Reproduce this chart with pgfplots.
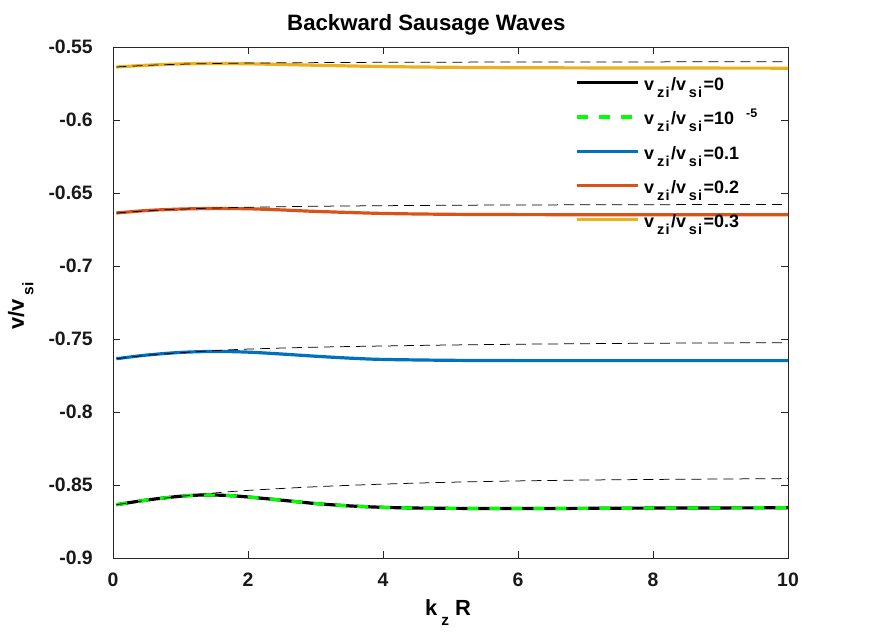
\documentclass[border=0pt]{standalone}
\usepackage{fontspec}
\setmainfont{Liberation Sans}
\usepackage{pgfplots}
\pgfplotsset{compat=1.18}
\definecolor{mblue}{rgb}{0,0.447,0.741}
\definecolor{mred}{rgb}{0.85,0.325,0.098}
\definecolor{myellow}{rgb}{0.929,0.694,0.125}
\definecolor{axgray}{rgb}{0.15,0.15,0.15}
\newcommand{\sub}[1]{\hspace{3bp}\raisebox{-7bp}{\fontsize{14.5}{14.5}\selectfont\addfontfeatures{LetterSpace=8}#1}\hspace{1.5bp}}
\newcommand{\lsub}[1]{\hspace{4bp}\raisebox{-9.5bp}{\fontsize{15.5}{15.5}\selectfont #1}}

\begin{document}
\begin{tikzpicture}
\useasboundingbox (0,0) rectangle (872bp,632bp);
\begin{axis}[
 at={(113bp,74bp)}, anchor=south west,
 scale only axis, width=675bp, height=511bp,
 xmin=0, xmax=10, ymin=-0.9, ymax=-0.55,
 xtick={0,2,4,6,8,10}, xticklabels={0,2,4,6,8,10},
 ytick={-0.9,-0.85,-0.8,-0.75,-0.7,-0.65,-0.6,-0.55},
 yticklabels={-0.9,-0.85,-0.8,-0.75,-0.7,-0.65,-0.6,-0.55},
 tick align=inside, major tick length=7bp,
 axis line style={axgray, line width=0.6bp},
 every tick/.style={axgray, line width=0.6bp},
 ticklabel style={font=\fontsize{19.5}{20}\selectfont\bfseries, text=black!90},
 xticklabel style={anchor=north, inner sep=0pt, yshift=-15bp},
 yticklabel style={anchor=east, inner sep=0pt, xshift=-20bp},
 title={Backward Sausage Waves},
 title style={at={(rel axis cs:0.2578,1.0196)}, anchor=base west, inner sep=0pt, font=\fontsize{22.3}{23}\selectfont\bfseries},
 xlabel={k\lsub{z} R},
 xlabel style={at={(rel axis cs:0.4622,-0.1135)}, anchor=base west, inner sep=0pt, font=\fontsize{22}{22}\selectfont\bfseries},
 ylabel={v/v\lsub{si}},
 ylabel style={at={(rel axis cs:-0.1319,0.4462)}, anchor=base west, inner sep=0pt, font=\fontsize{22}{22}\selectfont\bfseries},
 legend style={at={(rel axis cs:0.6844,0.938)}, anchor=north west, draw=none, fill=none,
   inner sep=0pt, outer sep=0pt, column sep=5bp, row sep=16.3bp,
   font=\fontsize{18}{18}\selectfont\bfseries,
   nodes={inner sep=0pt, text height=12bp, text depth=6bp}},
 legend cell align=left,
 legend image code/.code={\draw[#1] (0bp,5bp) -- (61bp,5bp);},
]
% v_zi/v_si = 0
\addplot[black, line width=3.2bp, smooth] coordinates {
(0.05,-0.8635) (0.5,-0.8603) (1,-0.8577) (1.36,-0.8568) (1.7,-0.8572) (2,-0.8582)
(2.5,-0.8604) (3,-0.8627) (3.5,-0.8643) (4,-0.8653) (4.5,-0.8658) (5,-0.8660)
(6,-0.8661) (7,-0.8660) (8,-0.8658) (9,-0.8657) (10,-0.8656)};
\addlegendentry{v\sub{zi}/v\sub{si}=0}
% 1e-5
\addplot[green, line width=3.2bp, dash pattern=on 11bp off 11bp, smooth] coordinates {
(0.05,-0.8635) (0.5,-0.8603) (1,-0.8577) (1.36,-0.8568) (1.7,-0.8572) (2,-0.8582)
(2.5,-0.8604) (3,-0.8627) (3.5,-0.8643) (4,-0.8653) (4.5,-0.8658) (5,-0.8660)
(6,-0.8661) (7,-0.8660) (8,-0.8658) (9,-0.8657) (10,-0.8656)};
\addlegendentry{v\sub{zi}/v\sub{si}=10\hspace{12bp}\raisebox{7bp}{\fontsize{12.5}{12.5}\selectfont -5}}
% 0.1
\addplot[mblue, line width=3.2bp, smooth] coordinates {
(0.05,-0.7635) (0.5,-0.7610) (1,-0.7592) (1.5,-0.7585) (2,-0.7590) (2.5,-0.7603)
(3,-0.7618) (3.5,-0.7631) (4,-0.7640) (5,-0.7646) (6,-0.7648) (7,-0.7648)
(8,-0.7648) (9,-0.7648) (10,-0.7648)};
\addlegendentry{v\sub{zi}/v\sub{si}=0.1}
% 0.2
\addplot[mred, line width=3.2bp, smooth] coordinates {
(0.05,-0.6637) (0.5,-0.6620) (1,-0.6610) (1.5,-0.6606) (2,-0.6608) (2.5,-0.6616)
(3,-0.6626) (4,-0.6640) (5,-0.6646) (6,-0.6648) (8,-0.6649) (10,-0.6649)};
\addlegendentry{v\sub{zi}/v\sub{si}=0.2}
% 0.3
\addplot[myellow, line width=3.2bp, smooth] coordinates {
(0.05,-0.5637) (0.5,-0.5625) (1,-0.5616) (1.5,-0.5613) (2,-0.5615) (3,-0.5625)
(4,-0.5634) (5,-0.5639) (6,-0.5642) (8,-0.5644) (10,-0.5645)};
\addlegendentry{v\sub{zi}/v\sub{si}=0.3}
% thin dashed reference curves
\addplot[forget plot, black, line width=0.75bp, dash pattern=on 10bp off 6bp, smooth] coordinates {
(0.05,-0.8635) (0.5,-0.8605) (1,-0.8578) (1.5,-0.8555) (2,-0.8537) (3,-0.8512)
(4,-0.8494) (5,-0.8481) (6,-0.8472) (7,-0.8466) (8,-0.8462) (9,-0.8459) (10,-0.8456)};
\addplot[forget plot, black, line width=0.75bp, dash pattern=on 10bp off 6bp, smooth] coordinates {
(0.05,-0.7635) (0.5,-0.7612) (1,-0.7594) (1.5,-0.7580) (2,-0.7569) (3,-0.7556)
(4,-0.7548) (5,-0.7541) (6,-0.7536) (7,-0.7532) (8,-0.7529) (9,-0.7527) (10,-0.7525)};
\addplot[forget plot, black, line width=0.75bp, dash pattern=on 10bp off 6bp, smooth] coordinates {
(0.05,-0.6637) (0.5,-0.6622) (1,-0.6611) (1.5,-0.6603) (2,-0.6598) (3,-0.6591)
(4,-0.6587) (5,-0.6584) (6,-0.6582) (8,-0.6580) (10,-0.6578)};
\addplot[forget plot, black, line width=0.75bp, dash pattern=on 10bp off 6bp, smooth] coordinates {
(0.05,-0.5637) (0.5,-0.5626) (1,-0.5618) (1.5,-0.5613) (2,-0.5610) (3,-0.5607)
(4,-0.5605) (6,-0.5603) (8,-0.5602) (10,-0.5601)};
\end{axis}
\end{tikzpicture}
\end{document}
